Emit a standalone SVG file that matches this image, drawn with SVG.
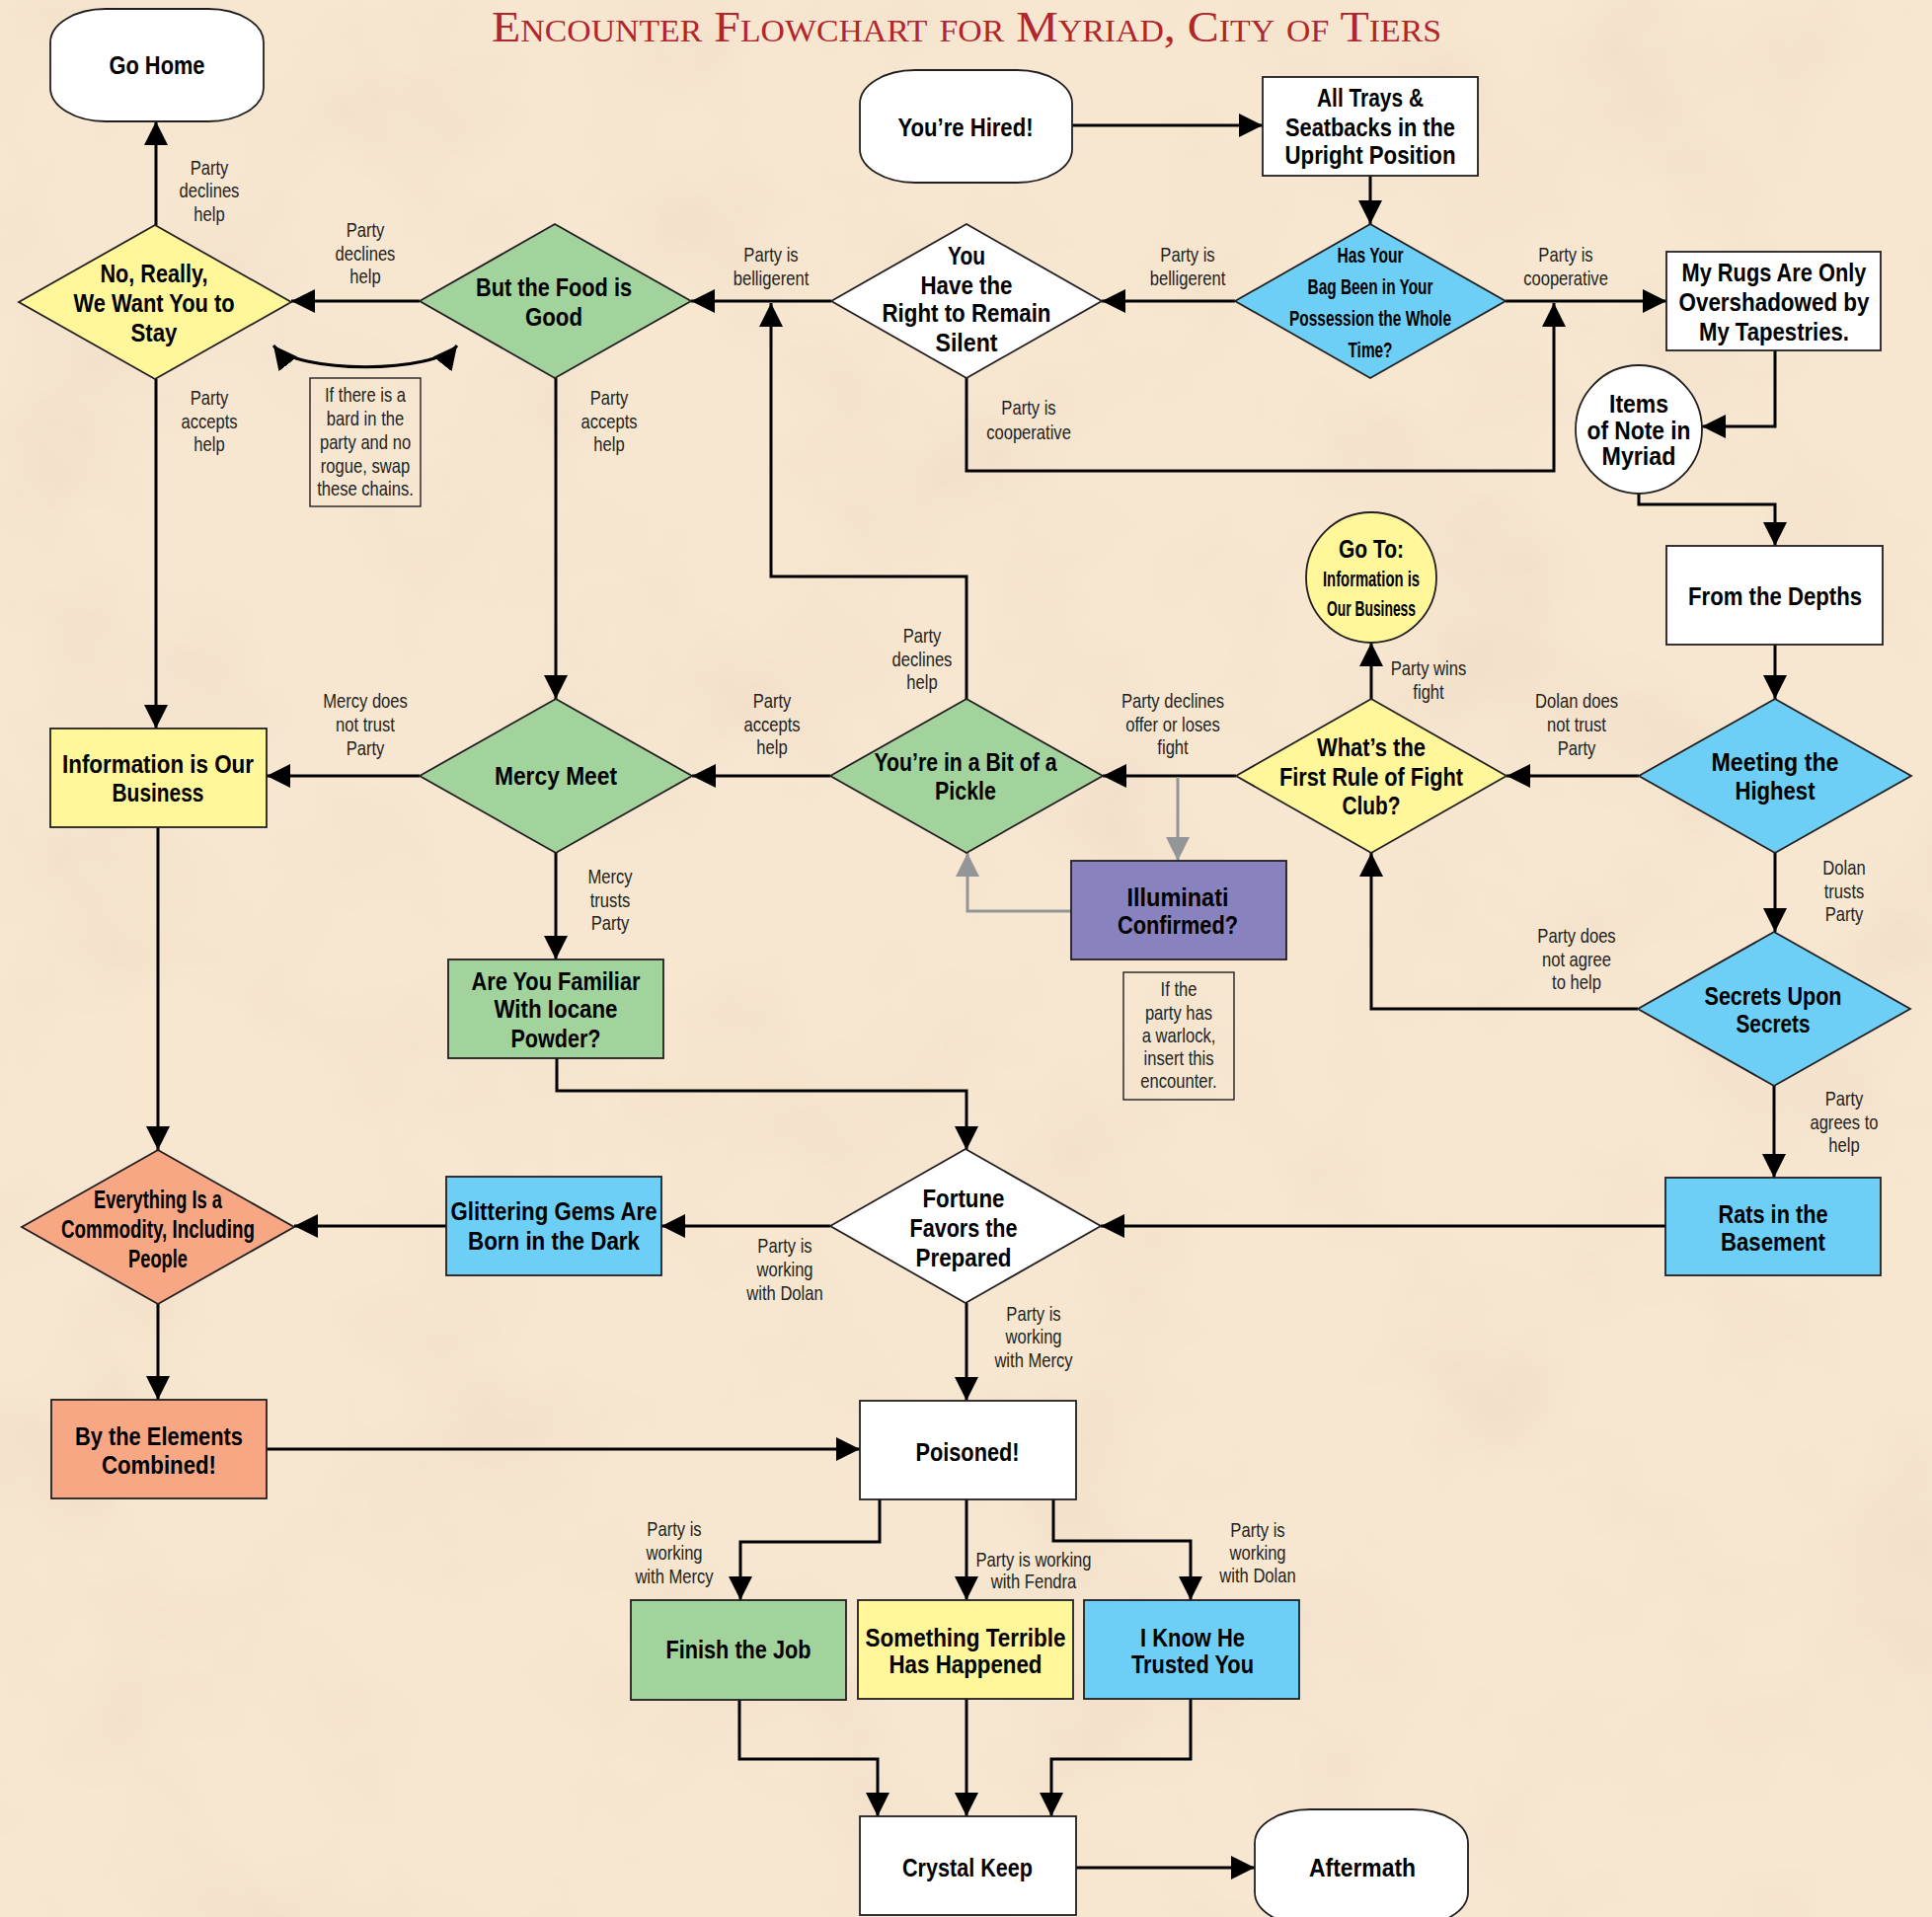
<svg xmlns="http://www.w3.org/2000/svg" width="1957" height="1942" viewBox="0 0 1957 1942">
<defs>
<style>
.nd{stroke:#231f20;stroke-width:1.8}
.w{fill:#ffffff}.gr{fill:#a2d39c}.ye{fill:#fff799}.bl{fill:#6dcff6}.sa{fill:#f7a783}.pu{fill:#8882be}
.t{font-family:"Liberation Sans",Arial,sans-serif;font-weight:bold;font-size:25px;text-anchor:middle;fill:#000}
.ts{font-size:22.5px}
.tm{font-size:21.5px}
.l{font-family:"Liberation Sans",Arial,sans-serif;font-size:20px;text-anchor:middle;fill:#231f20}
.c{fill:none;stroke:#000;stroke-width:3}
.cg{fill:none;stroke:#939598;stroke-width:3}
.note{fill:none;stroke:#231f20;stroke-width:1.4}
</style>
<marker id="ah" viewBox="0 0 24 24" markerWidth="24" markerHeight="24" refX="24" refY="12" orient="auto" markerUnits="userSpaceOnUse"><path d="M0,0 L24,12 L0,24 z" fill="#000"/></marker>
<marker id="ahr" viewBox="0 0 24 24" markerWidth="24" markerHeight="24" refX="24" refY="12" orient="auto-start-reverse" markerUnits="userSpaceOnUse"><path d="M0,0 L24,12 L0,24 z" fill="#000"/></marker>
<marker id="ahg" viewBox="0 0 24 24" markerWidth="24" markerHeight="24" refX="24" refY="12" orient="auto" markerUnits="userSpaceOnUse"><path d="M0,0 L24,12 L0,24 z" fill="#939598"/></marker>
<filter id="mottle" x="0" y="0" width="1957" height="1942" filterUnits="userSpaceOnUse">
<feTurbulence type="fractalNoise" baseFrequency="0.005" numOctaves="4" seed="7" result="n"/>
<feColorMatrix in="n" type="matrix" values="0 0 0 0 0.88  0 0 0 0 0.73  0 0 0 0 0.58  2.0 0 0 0 -0.88"/>
</filter>
</defs>

<g id="background">
<rect x="0" y="0" width="1957" height="1942" fill="#f7e7d1"/>
<rect x="0" y="0" width="1957" height="1942" fill="#000" filter="url(#mottle)"/>
</g>

<text id="title" x="498" y="42" textLength="962" lengthAdjust="spacingAndGlyphs" font-family="'Liberation Serif',serif" font-size="44" font-variant="small-caps" fill="#b0262c">Encounter Flowchart for Myriad, City of Tiers</text>

<g id="connectors">
<path class="c" marker-end="url(#ah)" d="M158,228 V123"/>
<path class="c" marker-end="url(#ah)" d="M425,305 H295"/>
<path class="c" marker-end="url(#ah)" d="M842,305 H700"/>
<path class="c" marker-end="url(#ah)" d="M1251,305 H1116"/>
<path class="c" marker-end="url(#ah)" d="M1525,305 H1688"/>
<path class="c" marker-end="url(#ah)" d="M1086,127 H1279"/>
<path class="c" marker-end="url(#ah)" d="M1388,178 V227"/>
<path class="c" marker-end="url(#ah)" d="M979,383 V477 H1574 V307"/>
<path class="c" marker-end="url(#ah)" d="M1798,355 V432 H1724"/>
<path class="c" marker-end="url(#ah)" d="M1660,500 V511 H1798 V553"/>
<path class="c" marker-end="url(#ah)" d="M1798,653 V708"/>
<path class="c" marker-end="url(#ah)" d="M1660,786 H1526"/>
<path class="c" marker-end="url(#ah)" d="M1798,864 V944"/>
<path class="c" marker-end="url(#ah)" d="M1659,1022 H1389 V864"/>
<path class="c" marker-end="url(#ah)" d="M1797,1100 V1193"/>
<path class="c" marker-end="url(#ah)" d="M1389,708 V651"/>
<path class="c" marker-end="url(#ah)" d="M1252,786 H1117"/>
<path class="cg" marker-end="url(#ahg)" d="M1193,787 V872"/>
<path class="cg" marker-end="url(#ahg)" d="M1085,923 H980 V864"/>
<path class="c" marker-end="url(#ah)" d="M979,708 V584 H781 V307"/>
<path class="c" marker-end="url(#ah)" d="M841,786 H701"/>
<path class="c" marker-end="url(#ah)" d="M425,786 H270"/>
<path class="c" marker-end="url(#ah)" d="M158,384 V738"/>
<path class="c" marker-end="url(#ah)" d="M563,383 V708"/>
<path class="c" marker-end="url(#ah)" d="M563,864 V972"/>
<path class="c" marker-end="url(#ah)" d="M564,1072 V1105 H979 V1165"/>
<path class="c" marker-end="url(#ah)" d="M160,838 V1165"/>
<path class="c" marker-end="url(#ah)" d="M1687,1242 H1115"/>
<path class="c" marker-end="url(#ah)" d="M841,1242 H670"/>
<path class="c" marker-end="url(#ah)" d="M452,1242 H298"/>
<path class="c" marker-end="url(#ah)" d="M160,1321 V1418"/>
<path class="c" marker-end="url(#ah)" d="M270,1468 H871"/>
<path class="c" marker-end="url(#ah)" d="M979,1320 V1419"/>
<path class="c" marker-end="url(#ah)" d="M891,1519 V1562 H750 V1621"/>
<path class="c" marker-end="url(#ah)" d="M979,1519 V1621"/>
<path class="c" marker-end="url(#ah)" d="M1067,1519 V1561 H1206 V1621"/>
<path class="c" marker-end="url(#ah)" d="M749,1722 V1782 H889 V1840"/>
<path class="c" marker-end="url(#ah)" d="M979,1721 V1840"/>
<path class="c" marker-end="url(#ah)" d="M1206,1721 V1782 H1065 V1840"/>
<path class="c" marker-end="url(#ah)" d="M1090,1892 H1271"/>
<path class="c" marker-start="url(#ahr)" marker-end="url(#ahr)" d="M277,350 C300,379 440,379 463,350"/>
</g>

<g id="labels">
<g transform="translate(212 0) scale(.83 1)"><text class="l" y="177">Party</text><text class="l" y="200">declines</text><text class="l" y="224">help</text></g>
<g transform="translate(370 0) scale(.83 1)"><text class="l" y="240">Party</text><text class="l" y="264">declines</text><text class="l" y="287">help</text></g>
<g transform="translate(781 0) scale(.83 1)"><text class="l" y="265">Party is</text><text class="l" y="289">belligerent</text></g>
<g transform="translate(1203 0) scale(.83 1)"><text class="l" y="265">Party is</text><text class="l" y="289">belligerent</text></g>
<g transform="translate(1586 0) scale(.83 1)"><text class="l" y="265">Party is</text><text class="l" y="289">cooperative</text></g>
<g transform="translate(1042 0) scale(.83 1)"><text class="l" y="420">Party is</text><text class="l" y="445">cooperative</text></g>
<g transform="translate(212 0) scale(.83 1)"><text class="l" y="410">Party</text><text class="l" y="434">accepts</text><text class="l" y="457">help</text></g>
<g transform="translate(617 0) scale(.83 1)"><text class="l" y="410">Party</text><text class="l" y="434">accepts</text><text class="l" y="457">help</text></g>
<g transform="translate(370 0) scale(.83 1)"><text class="l" y="717">Mercy does</text><text class="l" y="741">not trust</text><text class="l" y="765">Party</text></g>
<g transform="translate(782 0) scale(.83 1)"><text class="l" y="717">Party</text><text class="l" y="741">accepts</text><text class="l" y="764">help</text></g>
<g transform="translate(934 0) scale(.83 1)"><text class="l" y="651">Party</text><text class="l" y="675">declines</text><text class="l" y="698">help</text></g>
<g transform="translate(1188 0) scale(.83 1)"><text class="l" y="717">Party declines</text><text class="l" y="741">offer or loses</text><text class="l" y="764">fight</text></g>
<g transform="translate(1447 0) scale(.83 1)"><text class="l" y="684">Party wins</text><text class="l" y="708">fight</text></g>
<g transform="translate(1597 0) scale(.83 1)"><text class="l" y="717">Dolan does</text><text class="l" y="741">not trust</text><text class="l" y="765">Party</text></g>
<g transform="translate(1868 0) scale(.83 1)"><text class="l" y="886">Dolan</text><text class="l" y="910">trusts</text><text class="l" y="933">Party</text></g>
<g transform="translate(1597 0) scale(.83 1)"><text class="l" y="955">Party does</text><text class="l" y="979">not agree</text><text class="l" y="1002">to help</text></g>
<g transform="translate(1868 0) scale(.83 1)"><text class="l" y="1120">Party</text><text class="l" y="1144">agrees to</text><text class="l" y="1167">help</text></g>
<g transform="translate(618 0) scale(.83 1)"><text class="l" y="895">Mercy</text><text class="l" y="919">trusts</text><text class="l" y="942">Party</text></g>
<g transform="translate(795 0) scale(.83 1)"><text class="l" y="1269">Party is</text><text class="l" y="1293">working</text><text class="l" y="1317">with Dolan</text></g>
<g transform="translate(1047 0) scale(.83 1)"><text class="l" y="1338">Party is</text><text class="l" y="1361">working</text><text class="l" y="1385">with Mercy</text></g>
<g transform="translate(683 0) scale(.83 1)"><text class="l" y="1556">Party is</text><text class="l" y="1580">working</text><text class="l" y="1604">with Mercy</text></g>
<g transform="translate(1047 0) scale(.83 1)"><text class="l" y="1587">Party is working</text><text class="l" y="1609">with Fendra</text></g>
<g transform="translate(1274 0) scale(.83 1)"><text class="l" y="1557">Party is</text><text class="l" y="1580">working</text><text class="l" y="1603">with Dolan</text></g>
</g>

<g id="note-bard">
<rect class="note" x="314" y="383" width="112" height="130"/>
<g transform="translate(370 0) scale(.83 1)"><text class="l" y="407">If there is a</text><text class="l" y="431">bard in the</text><text class="l" y="455">party and no</text><text class="l" y="479">rogue, swap</text><text class="l" y="502">these chains.</text></g>
</g>
<g id="note-warlock">
<rect class="note" x="1138" y="985" width="112" height="129"/>
<g transform="translate(1194 0) scale(.83 1)"><text class="l" y="1009">If the</text><text class="l" y="1033">party has</text><text class="l" y="1056">a warlock,</text><text class="l" y="1079">insert this</text><text class="l" y="1102">encounter.</text></g>
</g>

<g id="go-home">
<rect class="nd w" x="51" y="9" width="216" height="114" rx="56" ry="34"/>
<text class="t" x="159" y="75" textLength="97" lengthAdjust="spacingAndGlyphs">Go Home</text>
</g>
<g id="youre-hired">
<rect class="nd w" x="871" y="71" width="215" height="114" rx="56" ry="34"/>
<text class="t" x="978" y="138" textLength="137" lengthAdjust="spacingAndGlyphs">You’re Hired!</text>
</g>
<g id="all-trays">
<rect class="nd w" x="1279" y="78" width="218" height="100"/>
<text class="t" x="1388" y="108" textLength="108" lengthAdjust="spacingAndGlyphs">All Trays &amp;</text>
<text class="t" x="1388" y="138" textLength="172" lengthAdjust="spacingAndGlyphs">Seatbacks in the</text>
<text class="t" x="1388" y="166" textLength="173" lengthAdjust="spacingAndGlyphs">Upright Position</text>
</g>
<g id="has-your-bag">
<polygon class="nd bl" points="1251,305 1388,227 1525,305 1388,383"/>
<text class="t ts" x="1388" y="266" textLength="67" lengthAdjust="spacingAndGlyphs">Has Your</text>
<text class="t ts" x="1388" y="298" textLength="127" lengthAdjust="spacingAndGlyphs">Bag Been in Your</text>
<text class="t ts" x="1388" y="330" textLength="164" lengthAdjust="spacingAndGlyphs">Possession the Whole</text>
<text class="t ts" x="1388" y="362" textLength="45" lengthAdjust="spacingAndGlyphs">Time?</text>
</g>
<g id="right-to-remain-silent">
<polygon class="nd w" points="842,305 979,227 1116,305 979,383"/>
<text class="t" x="979" y="268" textLength="38" lengthAdjust="spacingAndGlyphs">You</text>
<text class="t" x="979" y="298" textLength="93" lengthAdjust="spacingAndGlyphs">Have the</text>
<text class="t" x="979" y="326" textLength="171" lengthAdjust="spacingAndGlyphs">Right to Remain</text>
<text class="t" x="979" y="356" textLength="63" lengthAdjust="spacingAndGlyphs">Silent</text>
</g>
<g id="food-is-good">
<polygon class="nd gr" points="425,305 562,227 700,305 562,383"/>
<text class="t" x="561" y="300" textLength="158" lengthAdjust="spacingAndGlyphs">But the Food is</text>
<text class="t" x="561" y="330" textLength="58" lengthAdjust="spacingAndGlyphs">Good</text>
</g>
<g id="no-really">
<polygon class="nd ye" points="19,306 157,228 295,306 157,384"/>
<text class="t" x="156" y="286" textLength="109" lengthAdjust="spacingAndGlyphs">No, Really,</text>
<text class="t" x="156" y="316" textLength="163" lengthAdjust="spacingAndGlyphs">We Want You to</text>
<text class="t" x="156" y="346" textLength="47" lengthAdjust="spacingAndGlyphs">Stay</text>
</g>
<g id="my-rugs">
<rect class="nd w" x="1688" y="255" width="217" height="100"/>
<text class="t" x="1797" y="285" textLength="187" lengthAdjust="spacingAndGlyphs">My Rugs Are Only</text>
<text class="t" x="1797" y="315" textLength="193" lengthAdjust="spacingAndGlyphs">Overshadowed by</text>
<text class="t" x="1797" y="345" textLength="152" lengthAdjust="spacingAndGlyphs">My Tapestries.</text>
</g>
<g id="items-of-note">
<ellipse class="nd w" cx="1660" cy="435" rx="64" ry="65"/>
<text class="t" x="1660" y="418" textLength="60" lengthAdjust="spacingAndGlyphs">Items</text>
<text class="t" x="1660" y="445" textLength="105" lengthAdjust="spacingAndGlyphs">of Note in</text>
<text class="t" x="1660" y="471" textLength="75" lengthAdjust="spacingAndGlyphs">Myriad</text>
</g>
<g id="from-the-depths">
<rect class="nd w" x="1688" y="553" width="219" height="100"/>
<text class="t" x="1798" y="613" textLength="176" lengthAdjust="spacingAndGlyphs">From the Depths</text>
</g>
<g id="go-to">
<circle class="nd ye" cx="1389" cy="585" r="66"/>
<text class="t" x="1389" y="565" textLength="66" lengthAdjust="spacingAndGlyphs">Go To:</text>
<text class="t tm" x="1389" y="594" textLength="98" lengthAdjust="spacingAndGlyphs">Information is</text>
<text class="t tm" x="1389" y="624" textLength="90" lengthAdjust="spacingAndGlyphs">Our Business</text>
</g>
<g id="meeting-the-highest">
<polygon class="nd bl" points="1660,786 1798,708 1936,786 1798,864"/>
<text class="t" x="1798" y="781" textLength="129" lengthAdjust="spacingAndGlyphs">Meeting the</text>
<text class="t" x="1798" y="810" textLength="81" lengthAdjust="spacingAndGlyphs">Highest</text>
</g>
<g id="fight-club">
<polygon class="nd ye" points="1252,786 1389,708 1526,786 1389,864"/>
<text class="t" x="1389" y="766" textLength="110" lengthAdjust="spacingAndGlyphs">What’s the</text>
<text class="t" x="1389" y="796" textLength="186" lengthAdjust="spacingAndGlyphs">First Rule of Fight</text>
<text class="t" x="1389" y="825" textLength="59" lengthAdjust="spacingAndGlyphs">Club?</text>
</g>
<g id="pickle">
<polygon class="nd gr" points="841,786 979,708 1117,786 979,864"/>
<text class="t" x="978" y="781" textLength="185" lengthAdjust="spacingAndGlyphs">You’re in a Bit of a</text>
<text class="t" x="978" y="810" textLength="62" lengthAdjust="spacingAndGlyphs">Pickle</text>
</g>
<g id="mercy-meet">
<polygon class="nd gr" points="425,786 563,708 701,786 563,864"/>
<text class="t" x="563" y="795" textLength="124" lengthAdjust="spacingAndGlyphs">Mercy Meet</text>
</g>
<g id="information-business">
<rect class="nd ye" x="51" y="738" width="219" height="100"/>
<text class="t" x="160" y="783" textLength="194" lengthAdjust="spacingAndGlyphs">Information is Our</text>
<text class="t" x="160" y="812" textLength="93" lengthAdjust="spacingAndGlyphs">Business</text>
</g>
<g id="illuminati">
<rect class="nd pu" x="1085" y="872" width="218" height="100"/>
<text class="t" x="1193" y="918" textLength="103" lengthAdjust="spacingAndGlyphs">Illuminati</text>
<text class="t" x="1193" y="946" textLength="122" lengthAdjust="spacingAndGlyphs">Confirmed?</text>
</g>
<g id="iocane">
<rect class="nd gr" x="454" y="972" width="218" height="100"/>
<text class="t" x="563" y="1003" textLength="171" lengthAdjust="spacingAndGlyphs">Are You Familiar</text>
<text class="t" x="563" y="1031" textLength="125" lengthAdjust="spacingAndGlyphs">With Iocane</text>
<text class="t" x="563" y="1061" textLength="91" lengthAdjust="spacingAndGlyphs">Powder?</text>
</g>
<g id="secrets">
<polygon class="nd bl" points="1659,1022 1797,944 1935,1022 1797,1100"/>
<text class="t" x="1796" y="1018" textLength="139" lengthAdjust="spacingAndGlyphs">Secrets Upon</text>
<text class="t" x="1796" y="1046" textLength="75" lengthAdjust="spacingAndGlyphs">Secrets</text>
</g>
<g id="rats">
<rect class="nd bl" x="1687" y="1193" width="218" height="99"/>
<text class="t" x="1796" y="1239" textLength="111" lengthAdjust="spacingAndGlyphs">Rats in the</text>
<text class="t" x="1796" y="1267" textLength="106" lengthAdjust="spacingAndGlyphs">Basement</text>
</g>
<g id="fortune">
<polygon class="nd w" points="841,1242 978,1164 1115,1242 978,1320"/>
<text class="t" x="976" y="1223" textLength="83" lengthAdjust="spacingAndGlyphs">Fortune</text>
<text class="t" x="976" y="1253" textLength="109" lengthAdjust="spacingAndGlyphs">Favors the</text>
<text class="t" x="976" y="1283" textLength="97" lengthAdjust="spacingAndGlyphs">Prepared</text>
</g>
<g id="glittering-gems">
<rect class="nd bl" x="452" y="1192" width="218" height="100"/>
<text class="t" x="561" y="1236" textLength="209" lengthAdjust="spacingAndGlyphs">Glittering Gems Are</text>
<text class="t" x="561" y="1266" textLength="174" lengthAdjust="spacingAndGlyphs">Born in the Dark</text>
</g>
<g id="everything-commodity">
<polygon class="nd sa" points="22,1243 160,1165 298,1243 160,1321"/>
<text class="t" x="160" y="1224" textLength="130" lengthAdjust="spacingAndGlyphs">Everything Is a</text>
<text class="t" x="160" y="1254" textLength="196" lengthAdjust="spacingAndGlyphs">Commodity, Including</text>
<text class="t" x="160" y="1284" textLength="60" lengthAdjust="spacingAndGlyphs">People</text>
</g>
<g id="by-the-elements">
<rect class="nd sa" x="52" y="1418" width="218" height="100"/>
<text class="t" x="161" y="1464" textLength="170" lengthAdjust="spacingAndGlyphs">By the Elements</text>
<text class="t" x="161" y="1493" textLength="116" lengthAdjust="spacingAndGlyphs">Combined!</text>
</g>
<g id="poisoned">
<rect class="nd w" x="871" y="1419" width="219" height="100"/>
<text class="t" x="980" y="1480" textLength="105" lengthAdjust="spacingAndGlyphs">Poisoned!</text>
</g>
<g id="finish-the-job">
<rect class="nd gr" x="639" y="1621" width="218" height="101"/>
<text class="t" x="748" y="1680" textLength="147" lengthAdjust="spacingAndGlyphs">Finish the Job</text>
</g>
<g id="something-terrible">
<rect class="nd ye" x="869" y="1621" width="218" height="100"/>
<text class="t" x="978" y="1668" textLength="203" lengthAdjust="spacingAndGlyphs">Something Terrible</text>
<text class="t" x="978" y="1695" textLength="155" lengthAdjust="spacingAndGlyphs">Has Happened</text>
</g>
<g id="i-know-he-trusted-you">
<rect class="nd bl" x="1098" y="1621" width="218" height="100"/>
<text class="t" x="1208" y="1668" textLength="106" lengthAdjust="spacingAndGlyphs">I Know He</text>
<text class="t" x="1208" y="1695" textLength="124" lengthAdjust="spacingAndGlyphs">Trusted You</text>
</g>
<g id="crystal-keep">
<rect class="nd w" x="871" y="1840" width="219" height="100"/>
<text class="t" x="980" y="1901" textLength="132" lengthAdjust="spacingAndGlyphs">Crystal Keep</text>
</g>
<g id="aftermath">
<rect class="nd w" x="1271" y="1833" width="216" height="118" rx="56" ry="34"/>
<text class="t" x="1380" y="1901" textLength="108" lengthAdjust="spacingAndGlyphs">Aftermath</text>
</g>
</svg>
